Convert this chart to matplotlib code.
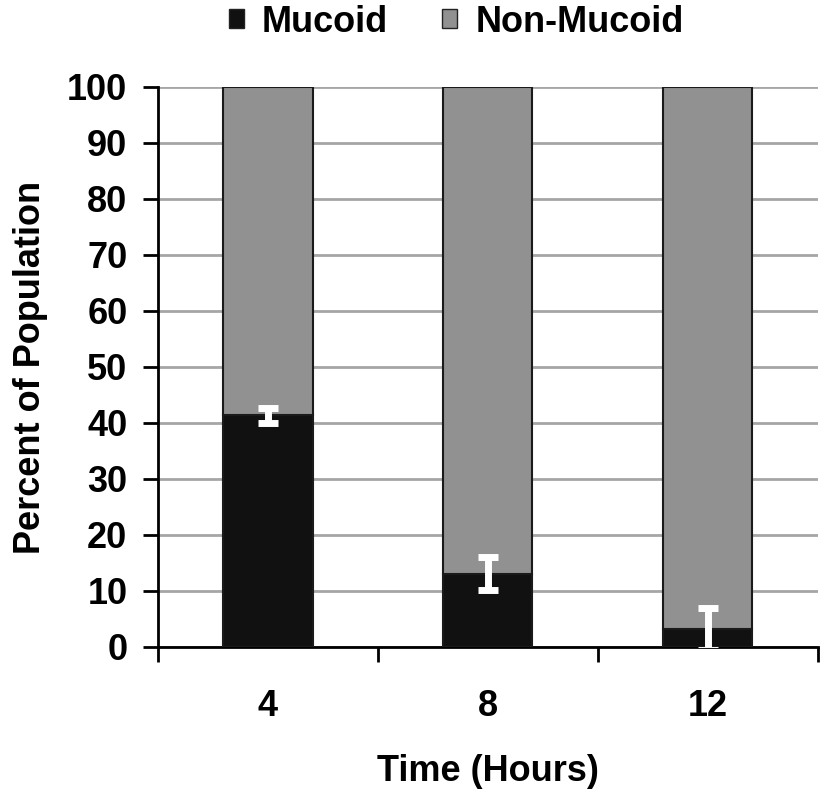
import numpy as np
import matplotlib
matplotlib.use("Agg")
import matplotlib.pyplot as plt
from matplotlib.patches import Patch

plt.rcParams['font.family'] = ['Liberation Sans', 'DejaVu Sans']
plt.rcParams['font.weight'] = 'bold'

# dados
tempos = ['4', '8', '12']
mucoid = [41.4, 13.1, 3.2]
mucoid_err = [1.35, 2.9, 3.8]
non_mucoid = [100 - m for m in mucoid]

COR_MUC = '#111111'
COR_NON = '#919191'
FS = 26

fig = plt.figure(figsize=(8.28, 8.0), dpi=100)
ax = fig.add_axes([0.1908, 0.19125, 0.797, 0.70])

x = np.arange(len(tempos))
W = 0.405

ax.bar(x, mucoid, W, color=COR_MUC, edgecolor='#1a1a1a', linewidth=1.5, zorder=3)
ax.bar(x, non_mucoid, W, bottom=mucoid, color=COR_NON, edgecolor='#1a1a1a',
       linewidth=1.5, zorder=3)
ax.errorbar(x, mucoid, yerr=mucoid_err, fmt='none', ecolor='white', elinewidth=5,
            capsize=7, capthick=5, zorder=4)

# eixos
ax.set_xlim(-0.5, 2.5)
ax.set_ylim(0, 100)
ax.set_yticks(np.arange(0, 101, 10))
ax.yaxis.grid(True, color='#a6a6a6', linewidth=2, zorder=0)
ax.set_axisbelow(True)

ax.set_xticks([-0.5, 0.5, 1.5, 2.5])
ax.set_xticklabels([])
ax.set_xticks(x, minor=True)
ax.set_xticklabels(tempos, minor=True)
ax.tick_params(axis='x', which='major', direction='out', length=11, width=2)
ax.tick_params(axis='x', which='minor', length=0, pad=30, labelsize=FS)
ax.tick_params(axis='y', direction='out', length=11, width=2, labelsize=FS, pad=11)

for s in ['top', 'right']:
    ax.spines[s].set_visible(False)
for s in ['left', 'bottom']:
    ax.spines[s].set_linewidth(2)

ax.set_xlabel("Time (Hours)", fontsize=FS, fontweight='bold', labelpad=22)
ax.set_ylabel("Percent of Population", fontsize=FS, fontweight='bold', labelpad=14)

handles = [Patch(facecolor=COR_MUC, edgecolor='#222222', label='Mucoid'),
           Patch(facecolor=COR_NON, edgecolor='#222222', label='Non-Mucoid')]
fig.legend(handles=handles, loc='upper center', bbox_to_anchor=(0.551, 1.035),
           ncol=2, frameon=False, fontsize=FS, handlelength=0.42, handleheight=0.42,
           handletextpad=0.5, columnspacing=1.5)

fig.savefig("out.png", dpi=100)
